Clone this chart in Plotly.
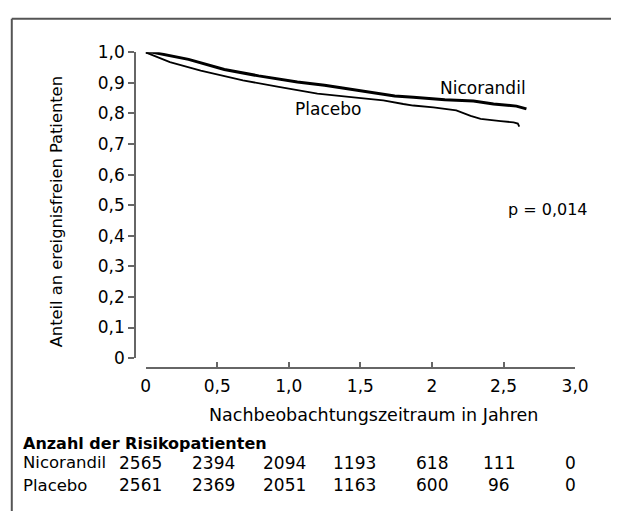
import plotly.graph_objects as go

# ---- data ----
years_nicorandil = [0, 0.05, 0.30, 0.55, 0.79, 1.06, 1.25, 1.47, 1.74, 1.87, 2.01, 2.09, 2.29, 2.43, 2.59, 2.66]
surv_nicorandil = [1.0, 1.0, 0.977, 0.944, 0.923, 0.903, 0.892, 0.877, 0.857, 0.853, 0.847, 0.845, 0.841, 0.831, 0.824, 0.815]

years_placebo = [0, 0.17, 0.385, 0.68, 0.93, 1.20, 1.47, 1.66, 1.80, 1.87, 2.01, 2.09, 2.17, 2.27, 2.34, 2.48, 2.57, 2.60, 2.61]
surv_placebo = [1.0, 0.968, 0.940, 0.908, 0.887, 0.865, 0.852, 0.843, 0.831, 0.826, 0.820, 0.815, 0.810, 0.792, 0.782, 0.775, 0.771, 0.767, 0.757]

x_tickvals = [0, 0.5, 1.0, 1.5, 2.0, 2.5, 3.0]
x_ticktext = ["0", "0,5", "1,0", "1,5", "2", "2,5", "3,0"]
y_tickvals = [0, 0.1, 0.2, 0.3, 0.4, 0.5, 0.6, 0.7, 0.8, 0.9, 1.0]
y_ticktext = ["0", "0,1", "0,2", "0,3", "0,4", "0,5", "0,6", "0,7", "0,8", "0,9", "1,0"]

risk_groups = ["Nicorandil", "Placebo"]
risk_nicorandil = [2565, 2394, 2094, 1193, 618, 111, 0]
risk_placebo = [2561, 2369, 2051, 1163, 600, 96, 0]

# ---- layout helpers (pixel -> paper) ----
W, H = 625, 521
FONT = "DejaVu Sans"

def px(x):
    return x / W

def py(y):
    return 1 - y / H

fig = go.Figure()
fig.add_trace(go.Scatter(x=years_nicorandil, y=surv_nicorandil, mode="lines",
                         line=dict(color="black", width=3), showlegend=False))
fig.add_trace(go.Scatter(x=years_placebo, y=surv_placebo, mode="lines",
                         line=dict(color="black", width=1.8), showlegend=False))

annotations = [
    dict(text="Nicorandil", x=px(447), y=py(81), xanchor="left", yanchor="middle", size=17),
    dict(text="Placebo", x=px(297), y=py(103), xanchor="left", yanchor="middle", size=17),
    dict(text="p = 0,014", x=px(517), y=py(207), xanchor="left", yanchor="middle", size=16),
    dict(text="Nachbeobachtungszeitraum in Jahren", x=px(380), y=py(421), xanchor="center", yanchor="middle", size=17.5),
    dict(text="Anteil an ereignisfreien Patienten", x=px(54), y=py(210), xanchor="center", yanchor="middle", textangle=-90, size=16.3),
    dict(text="<b>Anzahl der Risikopatienten</b>", x=px(16), y=py(451), xanchor="left", yanchor="middle", size=16),
]
col_centers = [140, 215.5, 288.5, 360.5, 440, 510, 583]
row_y = [471, 494]
for name, vals, ry in zip(risk_groups, [risk_nicorandil, risk_placebo], row_y):
    annotations.append(dict(text=name, x=px(16), y=py(ry), xanchor="left", yanchor="middle", size=16.5))
    for v, cx in zip(vals, col_centers):
        annotations.append(dict(text=str(v), x=px(cx), y=py(ry), xanchor="center", yanchor="middle", size=17))
for a in annotations:
    s = a.pop("size")
    a.update(xref="paper", yref="paper", showarrow=False, font=dict(family=FONT, size=s, color="black"))

fig.update_layout(
    width=W, height=H,
    margin=dict(l=0, r=0, t=0, b=0),
    paper_bgcolor="white", plot_bgcolor="white",
    font=dict(family=FONT, size=17, color="black"),
    xaxis=dict(domain=[px(145), px(588)], range=[0, 3.0], anchor="free", position=py(372),
               showline=True, linecolor="#666", linewidth=1.5, showgrid=False, zeroline=False,
               ticks="inside", ticklen=5, tickcolor="#666", tickwidth=1.5,
               ticklabelstandoff=3,
               tickvals=x_tickvals, ticktext=x_ticktext),
    yaxis=dict(domain=[py(362), py(44)], range=[0, 1.0], anchor="free", position=px(134),
               showline=True, linecolor="#666", linewidth=1.5, showgrid=False, zeroline=False,
               ticks="outside", ticklen=6, tickcolor="#666", tickwidth=1.5,
               tickvals=y_tickvals, ticktext=y_ticktext),
    annotations=annotations,
    shapes=[
        dict(type="line", xref="paper", yref="paper", x0=px(7), x1=1, y0=py(9), y1=py(9),
             line=dict(color="#555", width=2)),
        dict(type="line", xref="paper", yref="paper", x0=px(7), x1=px(7), y0=0, y1=py(9),
             line=dict(color="#555", width=2)),
    ],
)

fig.write_html("out.html", config={"displayModeBar": False})

# remove default page margin so the figure fills the window exactly
with open("out.html", "r", encoding="utf-8") as f:
    html = f.read()
html = html.replace("<head>", "<head><style>html,body{margin:0;padding:0;overflow:hidden;}</style>", 1)
with open("out.html", "w", encoding="utf-8") as f:
    f.write(html)
